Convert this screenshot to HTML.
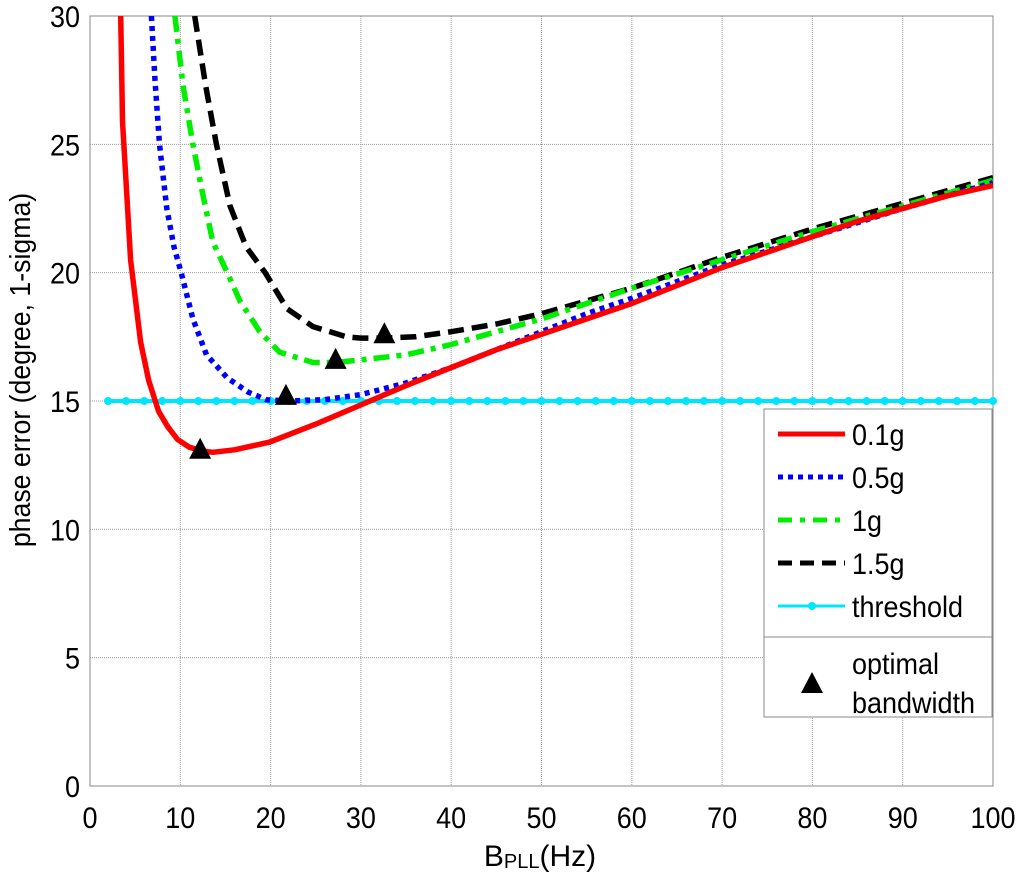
<!DOCTYPE html>
<html><head><meta charset="utf-8"><style>
body{margin:0;background:#fff;}
svg text{font-family:"Liberation Sans",sans-serif;fill:#000;}
</style></head><body>
<svg id="chart" width="1024" height="873" xmlns="http://www.w3.org/2000/svg">
<g id="grid"></g>
<g id="axes"></g>
<g id="series"></g>
<g id="legend"></g>
</svg>
<script>
const xTicks=[0,10,20,30,40,50,60,70,80,90,100];
const yTicks=[0,5,10,15,20,25,30];
const x01=[3.4,3.5,3.6,4.5,5.6,6.5,7.6,8.6,9.7,11,12.5,13.6,16,19.9,25,30,35,40,45,50,55,60,65,70,75,80,85,90,95,100];
const y01=[30,28,25.9,20.5,17.3,15.8,14.6,14.0,13.5,13.2,13.05,13.0,13.1,13.4,14.1,14.85,15.6,16.3,17.0,17.6,18.2,18.8,19.5,20.2,20.8,21.4,22.0,22.5,23.0,23.4];
const x05=[6.8,7.2,7.7,8.5,9.3,10.1,11.4,12.9,15.2,17.5,19.5,22,26,30,35,40,45,50,55,60,70,80,90,100];
const y05=[30,27.5,25,22.5,21,20,18.2,16.8,15.9,15.35,15.05,15.0,15.05,15.25,15.7,16.3,17.0,17.7,18.4,19.0,20.3,21.4,22.5,23.5];
const x1=[9.4,10.3,11.4,12.4,13.6,15.2,16.6,18.8,21,24.7,27.2,30,35,40,45,50,55,60,70,80,90,100];
const y1=[30,27.3,25,23.2,21.2,20,18.9,17.7,16.9,16.5,16.5,16.6,16.8,17.2,17.7,18.2,18.8,19.4,20.5,21.6,22.6,23.6];
const x15=[11.6,12.8,14,15.5,17.3,19.4,21.8,24.7,28.4,30,32.6,36,40,45,50,55,60,70,80,90,100];
const y15=[30,27.3,25,22.6,21.0,20.0,18.6,17.9,17.5,17.45,17.45,17.5,17.7,18.0,18.4,18.9,19.4,20.6,21.7,22.7,23.7];
const thresholdValue=15;
const optX=[12.2,21.7,27.2,32.6];
const optY=[13.1,15.2,16.6,17.6];
const seriesNames=["0.1g","0.5g","1g","1.5g","threshold"];

const L=90,R=993,T=16,B=786;
const sx=v=>L+(v-0)/(100-0)*(R-L);
const sy=v=>B-(v-0)/(30-0)*(B-T);
const NS="http://www.w3.org/2000/svg";
function mk(tag,attrs,parent){const e=document.createElementNS(NS,tag);for(const k in attrs)e.setAttribute(k,attrs[k]);parent.appendChild(e);return e;}
const grid=document.getElementById('grid'),axes=document.getElementById('axes'),ser=document.getElementById('series'),leg=document.getElementById('legend');
mk('rect',{x:L,y:T,width:R-L,height:B-T,fill:'#fff'},grid);
xTicks.forEach(t=>{
 const g=mk('line',{x1:sx(t),x2:sx(t),y1:T,y2:B,stroke:'#999','stroke-width':1,'stroke-dasharray':'1,1'},grid);
 
 
 const tx=mk('text',{x:sx(t),y:828,'font-size':30,'text-anchor':'middle',transform:`translate(${sx(t)},0) scale(0.9,1) translate(${-sx(t)},0)`},axes);
 tx.textContent=t;
 
 
});
yTicks.forEach(t=>{
 const g=mk('line',{x1:L,x2:R,y1:sy(t),y2:sy(t),stroke:'#999','stroke-width':1,'stroke-dasharray':'1,1'},grid);
 
 
 const tx=mk('text',{x:80,y:sy(t)+11,'font-size':30,'text-anchor':'end',transform:'translate(80,0) scale(0.9,1) translate(-80,0)'},axes);
 tx.textContent=t;
 
 
});
const frame=mk('rect',{x:L,y:T,width:R-L,height:B-T,fill:'none',stroke:'#888','stroke-width':1},axes);


const xl=mk('text',{x:540,y:866,'font-size':30,'text-anchor':'middle'},axes);
xl.innerHTML='B<tspan font-size="20" dy="2">PLL</tspan><tspan dy="-2">(Hz)</tspan>';


const yl=mk('text',{x:0,y:0,'font-size':29,'text-anchor':'middle',transform:'translate(30,370) rotate(-90) scale(0.92,1)'},axes);
yl.textContent='phase error (degree, 1-sigma)';



const defs=mk('clipPath',{id:'clip'},ser);mk('rect',{x:L,y:T,width:R-L,height:B-T},defs);
function path(xs,ys){return xs.map((v,i)=>(i?'L':'M')+sx(v).toFixed(1)+','+sy(ys[i]).toFixed(1)).join(' ');}
const styles=[
 {c:'#ff0000',d:''},{c:'#0000ff',d:'5,5'},{c:'#00ee00',d:'16,7,5,7'},{c:'#000000',d:'16,8'}];
const data=[[x01,y01],[x05,y05],[x1,y1],[x15,y15]];
const names=['curve-0-1g','curve-0-5g','curve-1g','curve-1-5g'];
const th=mk('line',{x1:sx(2),x2:sx(100),y1:sy(thresholdValue),y2:sy(thresholdValue),stroke:'#00e5ff','stroke-width':4},ser);


for(let v=2;v<=100;v+=2){
 const c=mk('circle',{cx:sx(v),cy:sy(thresholdValue),r:4,fill:'#00e5ff'},ser);
 
 
}
[3,2,1,0].forEach(i=>{
 const p=mk('path',{d:path(data[i][0],data[i][1]),fill:'none',stroke:styles[i].c,'stroke-width':5.5,'stroke-linejoin':'round','stroke-dasharray':styles[i].d,'clip-path':'url(#clip)'},ser);
 
 
});
optX.forEach((v,i)=>{
 const x=sx(v),y=sy(optY[i]);
 const t=mk('polygon',{points:`${x},${y-12} ${x-11},${y+9} ${x+11},${y+9}`,fill:'#000'},ser);
 
 
});
const lb=mk('rect',{x:764,y:409,width:228,height:228,fill:'#fff',stroke:'#888'},leg);


const lb2=mk('rect',{x:764,y:637,width:228,height:80,fill:'#fff',stroke:'#888'},leg);


const legC=['#ff0000','#0000ff','#00ee00','#000000','#00e5ff'];
const legD=['','5,5','14,8,5,8','14,8',''];
seriesNames.forEach((n,i)=>{
 const y=434+i*43;
 const ln=mk('line',{x1:778,x2:845,y1:y,y2:y,stroke:legC[i],'stroke-width':i==4?3:5,'stroke-dasharray':legD[i]},leg);
 
 
 if(i==4){const c=mk('circle',{cx:812,cy:y,r:4,fill:legC[i]},leg);}
 const t=mk('text',{x:852,y:y+11,'font-size':30,transform:'translate(852,0) scale(0.9,1) translate(-852,0)'},leg);
 t.textContent=n;
 
 
});
const lt=mk('polygon',{points:'812,672 801,693 823,693',fill:'#000'},leg);


const lt1=mk('text',{x:852,y:674,'font-size':30,transform:'translate(852,0) scale(0.9,1) translate(-852,0)'},leg);lt1.textContent='optimal';


const lt2=mk('text',{x:852,y:713,'font-size':30,transform:'translate(852,0) scale(0.9,1) translate(-852,0)'},leg);lt2.textContent='bandwidth';


</script>
</body></html>
